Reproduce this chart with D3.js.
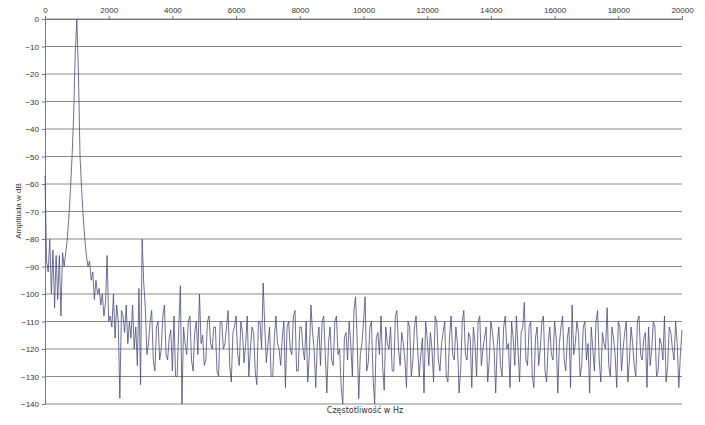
<!DOCTYPE html>
<html><head><meta charset="utf-8">
<script src="https://cdn.jsdelivr.net/npm/d3@7"></script>
<style>body{margin:0;background:#fff}text{font-family:"Liberation Sans",Arial,sans-serif}</style>
</head><body><svg id="c" width="705" height="425"></svg>
<script>
// 0..2000 Hz, step 50
const lowAmp=[-57,-88,-92,-80,-100,-84,-105,-86,-102,-86,-108,-85,-90,-85,-80,-72,-62,-50,-35,-12,0,-20,-50,-62,-72,-80,-86,-90,-88,-95,-92,-102,-95,-100,-98,-104,-100,-108,-103,-86,-110];
// 2050..20000 Hz, step 50
const highAmp=[
-108,-112,-100,-116,-104,-110,-138,-106,-108,-114,-104,-118,-110,-116,-104,-120,-112,-126,-98,-133,-80,-96,-105,-122,-118,-110,-106,-124,-128,-112,
-110,-124,-120,-108,-104,-122,-124,-116,-113,-128,-108,-130,-130,-112,-97,-140,-112,-118,-122,-110,-108,-124,-128,-114,-110,-122,-100,-118,-115,-126,
-124,-110,-108,-118,-120,-112,-112,-128,-130,-110,-110,-120,-118,-112,-106,-126,-132,-114,-112,-108,-122,-126,-110,-114,-125,-118,-108,-130,-120,-112,
-114,-128,-133,-110,-110,-120,-96,-112,-125,-118,-112,-130,-130,-116,-108,-118,-120,-126,-116,-110,-134,-112,-110,-120,-122,-108,-106,-128,-128,-112,
-112,-120,-124,-110,-132,-122,-104,-114,-120,-134,-118,-112,-126,-110,-108,-122,-136,-118,-112,-124,-126,-110,-108,-122,-120,-134,-140,-116,-114,-124,
-110,-118,-130,-106,-101,-116,-138,-122,-118,-110,-101,-128,-125,-112,-110,-130,-140,-116,-114,-122,-108,-126,-135,-112,-118,-120,-112,-128,-128,-108,
-106,-120,-126,-114,-118,-124,-134,-110,-112,-130,-124,-112,-108,-120,-130,-122,-116,-136,-110,-116,-126,-114,-120,-132,-108,-110,-124,-128,-118,-114,
-110,-130,-132,-116,-108,-122,-124,-112,-118,-136,-128,-110,-106,-122,-124,-114,-116,-134,-112,-118,-130,-110,-108,-126,-120,-116,-112,-132,-124,-110,
-114,-120,-136,-118,-112,-126,-130,-112,-108,-120,-118,-134,-110,-116,-126,-108,-120,-132,-114,-112,-103,-124,-126,-112,-110,-130,-134,-116,-112,-126,
-120,-110,-108,-128,-132,-118,-112,-122,-124,-110,-116,-136,-118,-112,-108,-124,-128,-116,-112,-134,-104,-122,-118,-110,-114,-130,-126,-112,-110,-124,
-118,-136,-112,-120,-128,-110,-106,-124,-132,-114,-118,-120,-105,-126,-130,-112,-116,-122,-134,-110,-112,-128,-120,-114,-110,-132,-124,-112,-118,-126,
-130,-110,-108,-122,-124,-116,-114,-134,-112,-126,-120,-110,-112,-130,-128,-116,-118,-124,-108,-132,-126,-112,-114,-120,-124,-110,-118,-134,-122,-113];
const xTicks=d3.range(0,20001,2000);
const yTicks=d3.range(0,-141,-10);
const data=[...lowAmp.map((v,i)=>[i*50,v]),...highAmp.map((v,i)=>[2050+i*50,v])];
const svg=d3.select("#c");
const L=45,R=682,T=19,B=404;
const x=d3.scaleLinear().domain([0,20000]).range([L,R]);
const y=d3.scaleLinear().domain([0,-140]).range([T,B]);
svg.append("g").selectAll("line").data(yTicks).join("line")
 .attr("x1",L).attr("x2",R).attr("y1",d=>y(d)).attr("y2",d=>y(d)).attr("stroke","#8a8a8a").attr("stroke-width",1);
const gx=svg.append("g").attr("transform",`translate(0,${T})`).call(d3.axisTop(x).tickValues(xTicks).tickSize(3).tickFormat(d3.format("d")));
const gy=svg.append("g").attr("transform",`translate(${L},0)`).call(d3.axisLeft(y).tickValues(yTicks).tickSize(3));
[gx,gy].forEach(g=>{g.select(".domain").attr("stroke","#777");g.selectAll(".tick line").attr("stroke","#777");g.selectAll("text").attr("font-size",8).attr("fill","#333").style("font-family","Liberation Sans, Arial")});
svg.append("path").datum(data.filter(d=>d[0]<=20000)).attr("fill","none").attr("stroke","#4a4a80").attr("stroke-width",0.8)
 .attr("d",d3.line().x(d=>x(d[0])).y(d=>y(d[1])));
svg.append("text").attr("x",365).attr("y",413).attr("text-anchor","middle").attr("font-size",8).attr("fill","#333").style("font-family","DejaVu Sans").text("Częstotliwość w Hz");
svg.append("text").attr("transform","translate(21,211) rotate(-90)").attr("text-anchor","middle").attr("font-size",8).attr("fill","#333").text("Amplituda w dB");
</script></body></html>
